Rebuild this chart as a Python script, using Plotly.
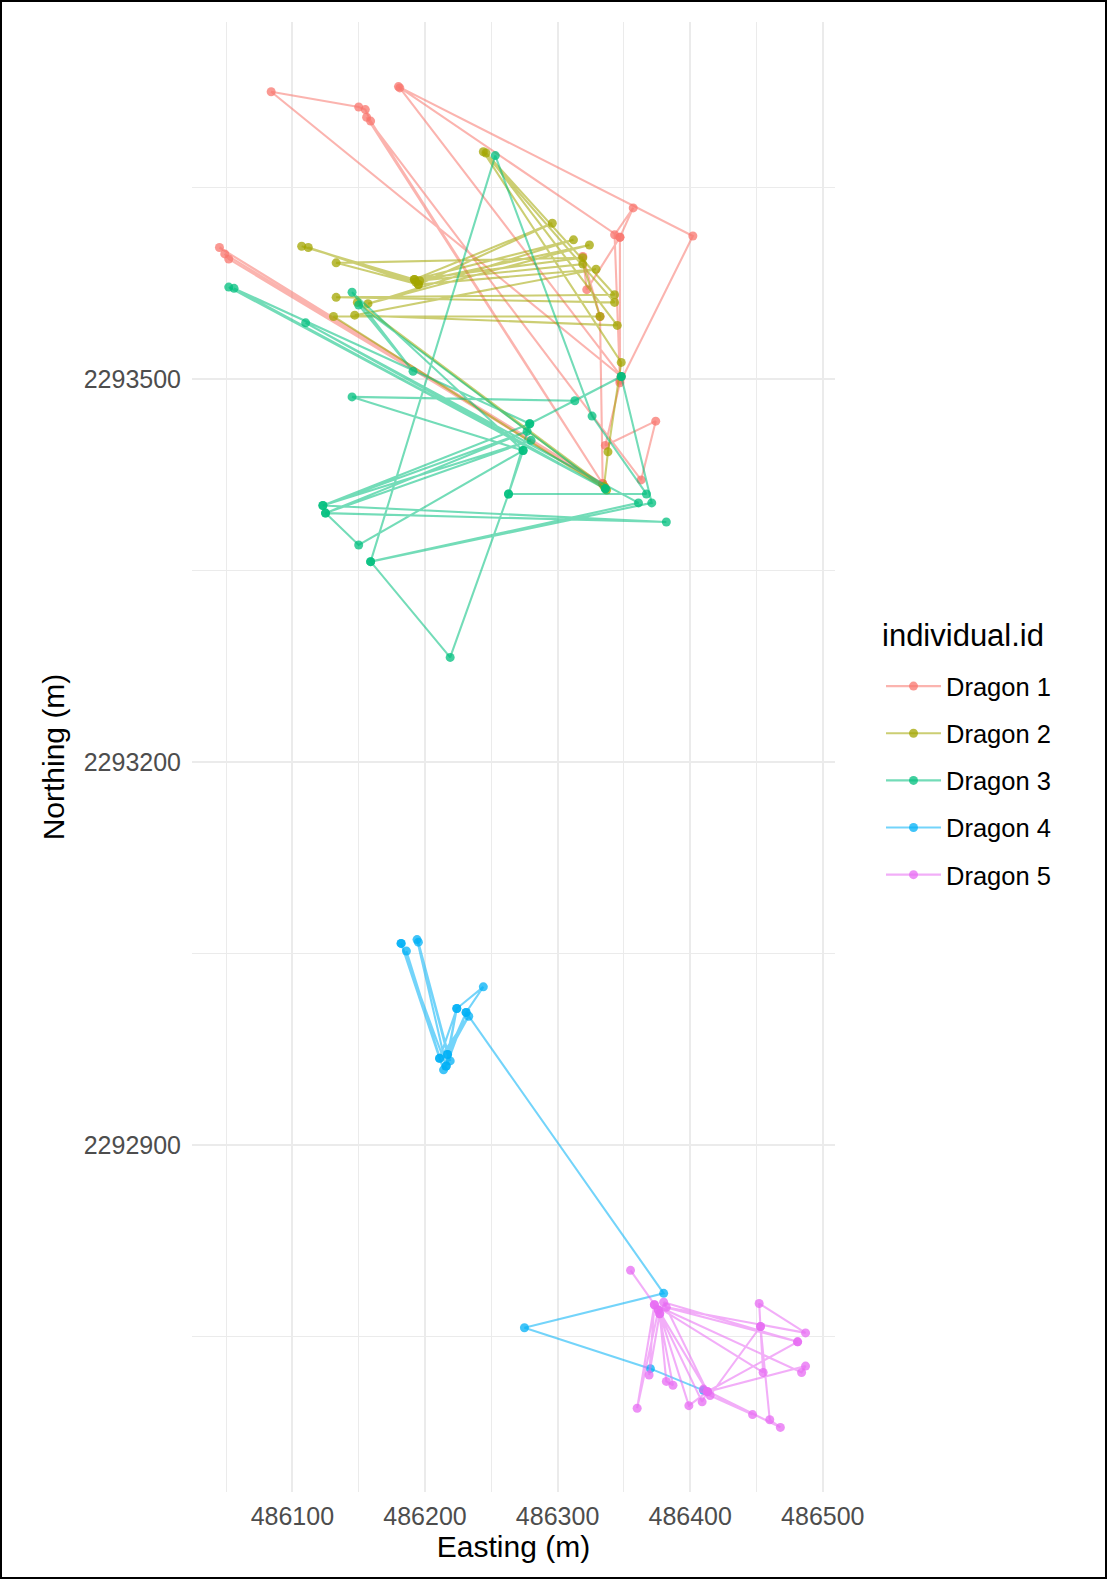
import plotly.graph_objects as go

# ---------------- data (Easting / Northing in metres) ----------------
dragons = ["Dragon 1", "Dragon 2", "Dragon 3", "Dragon 4", "Dragon 5"]

d1_e = [486181, 486348, 486084, 486150, 486155, 486159, 486334, 486156, 486363, 486374,
        486336, 486347, 486402, 486180, 486347, 486357, 486343, 486347, 486347, 486322,
        486319, 486332, 486334, 486045, 486336, 486049, 486052, 486334]
d1_n = [2293728, 2293502, 2293725, 2293713, 2293711, 2293702, 2293418, 2293705, 2293421, 2293467,
        2293448, 2293497, 2293612, 2293729, 2293611, 2293634, 2293613, 2293499, 2293611, 2293570,
        2293596, 2293549, 2293418, 2293603, 2293415, 2293598, 2293594, 2293418]

d2_e = [486107, 486192, 486296, 486195, 486112, 486193, 486324, 486157, 486312, 486192,
        486319, 486133, 486195, 486329, 486147, 486345, 486246, 486343, 486133, 486343,
        486244, 486348, 486338, 486335, 486149, 486337, 486131, 486332, 486319, 486196]
d2_n = [2293604, 2293578, 2293622, 2293574, 2293603, 2293576, 2293605, 2293559, 2293609, 2293578,
        2293595, 2293591, 2293574, 2293586, 2293550, 2293542, 2293677, 2293566, 2293564, 2293560,
        2293678, 2293513, 2293443, 2293416, 2293560, 2293413, 2293549, 2293549, 2293590, 2293577]

d3_e = [486052, 486336, 486056, 486279, 486123, 486277, 486125, 486280, 486123, 486382,
        486125, 486150, 486274, 486145, 486313, 486348, 486279, 486263, 486367, 486326,
        486253, 486159, 486219, 486263, 486274, 486145, 486191, 486150, 486336, 486110,
        486361, 486159, 486371, 486348]
d3_n = [2293572, 2293414, 2293571, 2293465, 2293401, 2293459, 2293395, 2293452, 2293401, 2293388,
        2293395, 2293370, 2293444, 2293486, 2293483, 2293502, 2293465, 2293410, 2293410, 2293471,
        2293675, 2293357, 2293282, 2293410, 2293444, 2293568, 2293506, 2293558, 2293414, 2293544,
        2293403, 2293357, 2293403, 2293502]

d4_e = [486182, 486211, 486186, 486214, 486182, 486216, 486194, 486219, 486195, 486217,
        486224, 486216, 486231, 486244, 486224, 486211, 486233, 486217, 486231, 486380,
        486275, 486370, 486410]
d4_n = [2293058, 2292968, 2293052, 2292959, 2293058, 2292962, 2293061, 2292966, 2293059, 2292971,
        2293007, 2292962, 2293004, 2293024, 2293007, 2292968, 2293001, 2292971, 2293004, 2292784,
        2292757, 2292725, 2292708]

d5_e = [486355, 486376, 486360, 486373, 486369, 486377, 486382, 486387, 486376, 486413,
        486380, 486481, 486382, 486487, 486452, 486453, 486415, 486447, 486410, 486468,
        486460, 486453, 486455, 486373, 486484, 486487, 486413, 486399, 486377, 486409,
        486413, 486481]
d5_n = [2292802, 2292771, 2292694, 2292775, 2292720, 2292768, 2292715, 2292712, 2292771, 2292707,
        2292777, 2292746, 2292773, 2292753, 2292776, 2292758, 2292704, 2292689, 2292709, 2292679,
        2292685, 2292758, 2292722, 2292775, 2292722, 2292727, 2292707, 2292696, 2292768, 2292699,
        2292707, 2292746]

x_ticks = [486100, 486200, 486300, 486400, 486500]
y_ticks = [2292900, 2293200, 2293500]

# ---------------- style ----------------
rgb = [(248, 118, 109), (163, 165, 0), (0, 191, 125), (0, 176, 246), (231, 107, 243)]
series = [(d1_e, d1_n), (d2_e, d2_n), (d3_e, d3_n), (d4_e, d4_n), (d5_e, d5_n)]

fig = go.Figure()
for name, (ex, ny), c in zip(dragons, series, rgb):
    fig.add_trace(go.Scatter(
        x=ex, y=ny, name=name, mode="lines+markers",
        legendgroup=name,
        line=dict(color="rgba(%d,%d,%d,0.55)" % c, width=2.1),
        marker=dict(color="rgba(%d,%d,%d,0.75)" % c, size=9, line=dict(width=0)),
    ))

FONT = "Liberation Sans, Arial, sans-serif"
L, R, T, B = 192, 272, 22, 87
W, H = 1107, 1579
pw, ph = W - L - R, H - T - B

fig.update_layout(
    width=W, height=H,
    margin=dict(l=L, r=R, t=T, b=B, pad=0),
    paper_bgcolor="white", plot_bgcolor="white",
    font=dict(family=FONT, color="black"),
    showlegend=True,
    legend=dict(
        font=dict(size=25.5, color="black"),
        x=(881 - L) / pw, xanchor="left",
        y=(H - B - 663) / ph, yanchor="top",
        tracegroupgap=11,
        itemwidth=55,
        bgcolor="rgba(0,0,0,0)",
    ),
    annotations=[dict(
        text="individual.id", xref="paper", yref="paper",
        x=(880 - L) / pw, xanchor="left",
        y=(H - B - 635) / ph, yanchor="middle",
        showarrow=False, font=dict(size=31, color="black"),
    )],
    xaxis=dict(
        range=[486024.3, 486509.2],
        tickmode="array", tickvals=x_ticks, ticktext=[str(v) for v in x_ticks],
        showgrid=True, gridcolor="#EBEBEB", gridwidth=1.8,
        minor=dict(dtick=50, tick0=486000, showgrid=True, gridcolor="#EBEBEB", gridwidth=0.9),
        zeroline=False, showline=False, ticks="",
        tickfont=dict(size=25, color="#4D4D4D"),
        ticklabelstandoff=7,
        title=dict(text="Easting (m)", font=dict(size=30, color="black"), standoff=6),
    ),
    yaxis=dict(
        range=[2292628.4, 2293779.6],
        tickmode="array", tickvals=y_ticks, ticktext=[str(v) for v in y_ticks],
        showgrid=True, gridcolor="#EBEBEB", gridwidth=1.8,
        minor=dict(dtick=150, tick0=2292600, showgrid=True, gridcolor="#EBEBEB", gridwidth=0.9),
        zeroline=False, showline=False, ticks="",
        tickfont=dict(size=25, color="#4D4D4D"),
        ticklabelstandoff=10,
        title=dict(text="Northing (m)", font=dict(size=30, color="black"), standoff=10),
    ),
    shapes=[dict(
        type="rect", xref="paper", yref="paper", layer="above",
        x0=(-L + 1) / pw, x1=1 + (R - 1) / pw,
        y0=(-B + 1) / ph, y1=1 + (T - 1) / ph,
        line=dict(color="black", width=2), fillcolor="rgba(0,0,0,0)",
    )],
)

fig.write_html("out.html")
